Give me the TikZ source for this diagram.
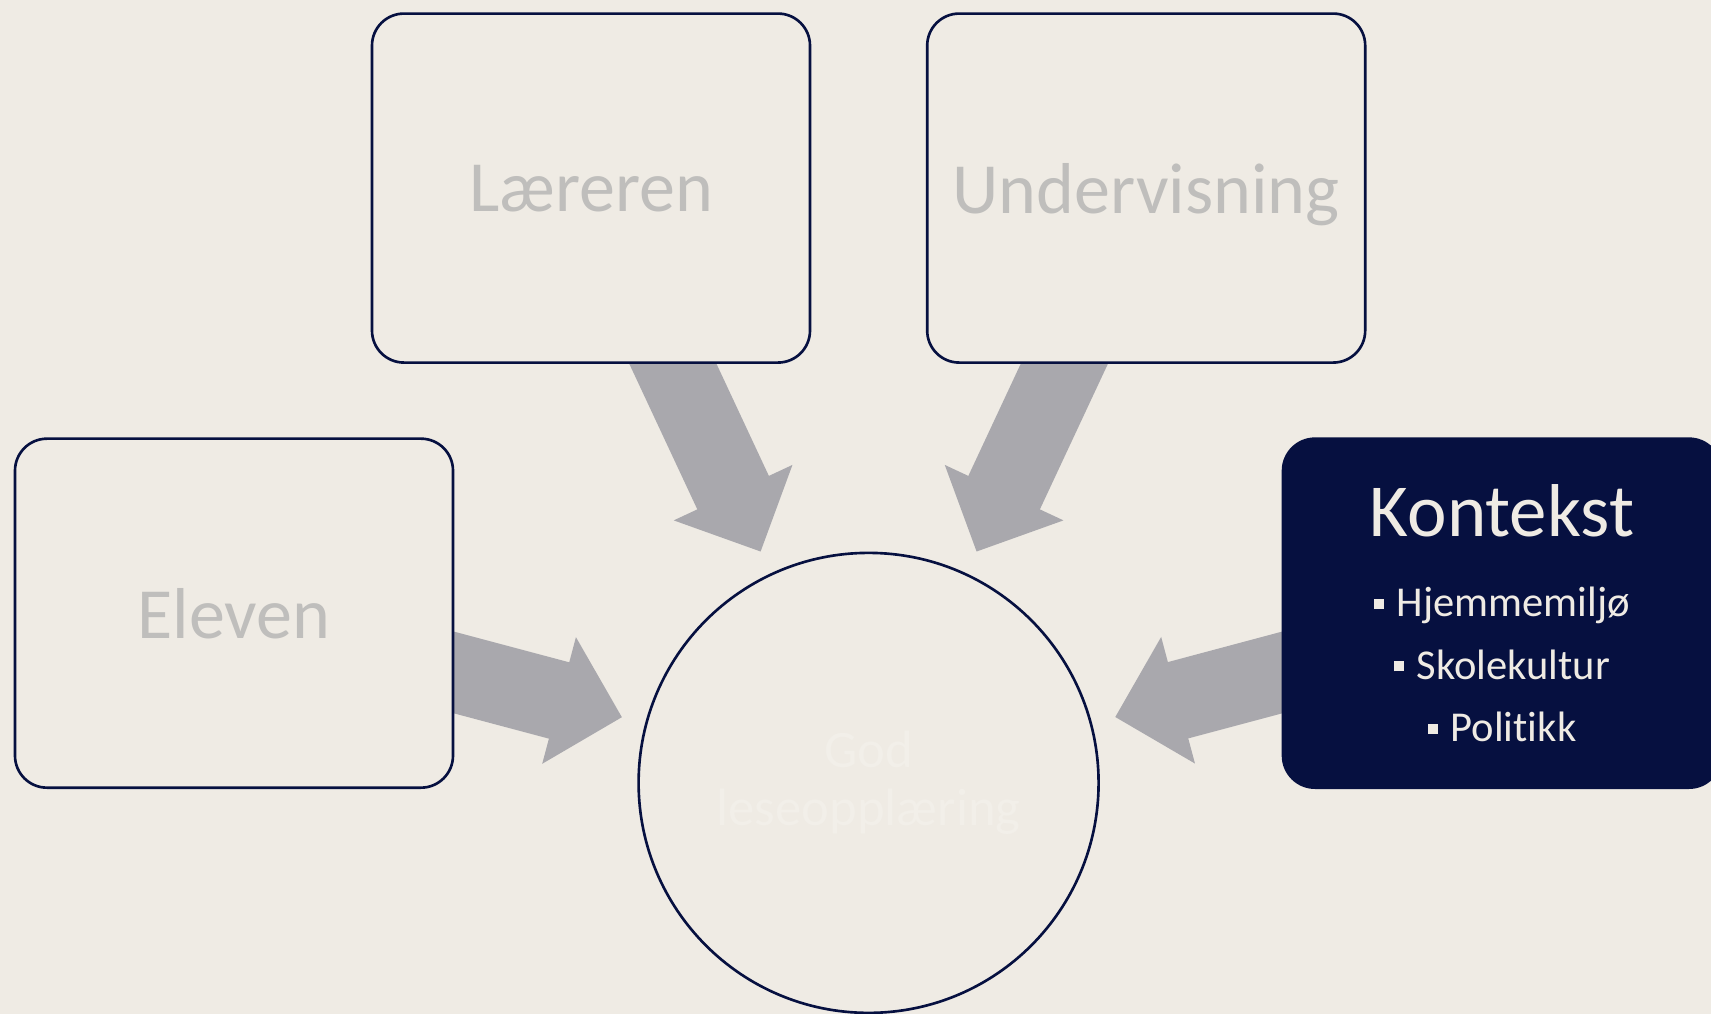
\documentclass[tikz,border=0pt]{standalone}
\usepackage{fontspec}
\setmainfont{Carlito}[Ligatures=NoCommon]
\usetikzlibrary{arrows.meta,positioning}

\definecolor{bakgrunn}{HTML}{EFEBE4}
\definecolor{marine}{HTML}{061040}
\definecolor{lysgraa}{HTML}{BFBEBC}
\definecolor{pilgraa}{HTML}{A9A8AD}
\definecolor{blek}{HTML}{F2EFE9}

\pgfdeclarelayer{bunn}
\pgfdeclarelayer{piler}
\pgfsetlayers{bunn,piler,main}

\newcommand{\punkt}{\rule[0.18em]{0.24em}{0.24em}\hspace{0.3em}}

\begin{document}
\begin{tikzpicture}[on grid,
    boks/.style={rectangle, rounded corners=0.32cm, draw=marine, line width=0.75pt,
      minimum width=4.38cm, minimum height=3.49cm, inner sep=0pt},
    faktor/.style={boks, fill=bakgrunn, text=lysgraa, text depth=0pt,
      font=\fontsize{20.5}{24}\selectfont},
    kontekstboks/.style={boks, fill=marine, text=bakgrunn, align=center,
      font=\fontsize{12.1}{17.8}\selectfont},
    sirkel/.style={circle, draw=marine, line width=0.75pt, fill=bakgrunn,
      minimum size=4.6cm, inner sep=0pt, text=blek, align=center,
      font=\fontsize{15}{16.5}\selectfont},
    pil/.style={draw=pilgraa, line width=0.79cm, shorten >=0.24cm, shorten <=-0.3cm,
      -{Triangle[length=0.65cm, width=1.3cm, line width=1.5pt]}}]

  \useasboundingbox (0,0) rectangle (17.11,10.14);
  \begin{pgfonlayer}{bunn}
    \fill[bakgrunn] (0,0) rectangle (17.11,10.14);
  \end{pgfonlayer}

  \node[sirkel] (midt) at (8.686,2.311) {God\\leseopplæring};
  \node[faktor] (laerer) [above left=5.948cm and 2.776cm of midt] {Læreren};
  \node[faktor] (undervisning) [above right=5.948cm and 2.776cm of midt] {Undervisning};
  \node[faktor] (eleven) [above left=1.697cm and 6.346cm of midt] {Eleven};
  \node[kontekstboks] (kontekst) [above right=1.697cm and 6.334cm of midt]
    {{\fontsize{21.3}{24}\selectfont Kontekst}\\[5pt]
     \punkt Hjemmemiljø\\ \punkt Skolekultur\\ \punkt Politikk};

  % piler inn mot midten
  \begin{pgfonlayer}{piler}
    \coordinate (ut-eleven) at ([yshift=-0.594cm]eleven.east);
    \coordinate (ut-kontekst) at ([yshift=-0.594cm]kontekst.west);
    \draw[pil] (laerer) -- (midt);
    \draw[pil] (undervisning) -- (midt);
    \draw[pil] (ut-eleven) -- (midt);
    \draw[pil] (ut-kontekst) -- (midt);
  \end{pgfonlayer}
\end{tikzpicture}
\end{document}
